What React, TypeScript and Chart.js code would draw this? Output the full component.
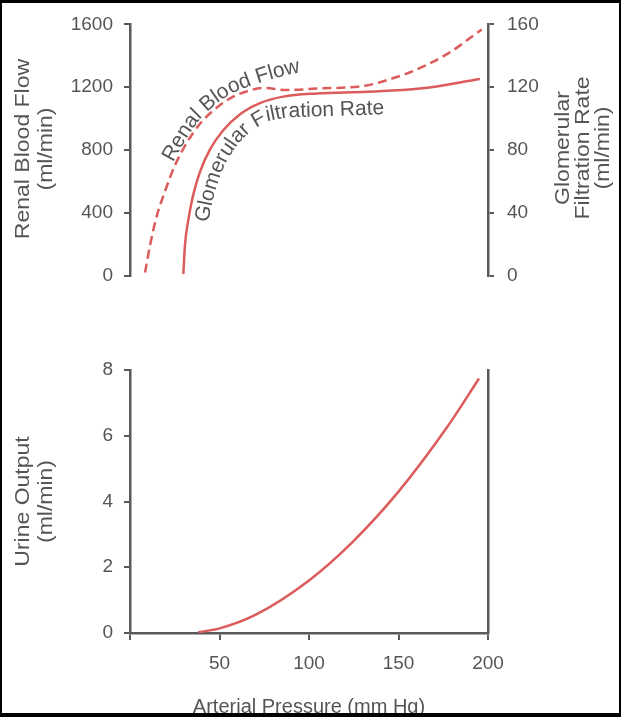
import React, { useEffect, useRef } from 'react';
import { Chart, registerables } from 'chart.js';

Chart.register(...registerables);

// ---- Data (arterial pressure in mm Hg) ----
// Top panel: renal blood flow (left axis, ml/min)
const rbfPressure = [8.4, 11.2, 14.9, 19.6, 25.1, 31.7, 39.1, 48.4, 57.7, 67.0, 74.5, 87.5, 104.3, 132.2, 145, 160, 178, 196.5];
const rbfFlow = [20, 194, 377, 539, 702, 845, 967, 1069, 1140, 1180, 1195, 1182, 1191, 1211, 1250, 1312, 1417, 1568];

// Top panel: glomerular filtration rate (right axis, ml/min)
const gfrPressure = [29.8, 30.7, 32.6, 35.4, 39.1, 44.7, 52.1, 61.5, 72.6, 85.6, 104.3, 132.2, 162, 195.5];
const gfrRate = [1, 19.4, 35.6, 51.9, 66.1, 80.4, 92.6, 102.8, 109.9, 114.0, 116.0, 117.1, 119.1, 125.2];

// Bottom panel: urine output (ml/min)
const urinePressure = [38, 50, 70, 100, 124, 150, 177, 195];
const urineOutput = [0.02, 0.14, 0.55, 1.6, 2.75, 4.3, 6.25, 7.74];

// Axis ranges / ticks
const pressureRange = [0, 200];
const rbfRange = [0, 1600];
const gfrRange = [0, 160];
const urineRange = [0, 8];
const pressureStep = 50;
const rbfStep = 400;
const gfrStep = 40;
const urineStep = 2;

// Axis titles
const rbfTitle = ['Renal Blood Flow', '(ml/min)'];
const gfrTitle = ['Glomerular', 'Filtration Rate', '(ml/min)'];
const urineTitle = ['Urine Output', '(ml/min)'];
const pressureTitle = 'Arterial Pressure (mm Hg)';

// Curved in-plot label baselines (in top-panel data coords: pressure, renal-flow units)
const rbfLabelPath = [[24.0, 721], [30.2, 849], [37.4, 977], [46.4, 1081], [56.4, 1160], [65.9, 1203], [75.4, 1240], [84.9, 1270], [95.0, 1295]];
const gfrLabelPath = [[43.6, 336], [46.4, 489], [49.7, 623], [54.7, 745], [60.9, 849], [68.2, 928], [76.5, 983], [87.7, 1008], [105.0, 1014], [122.9, 1020], [148.0, 1032]];

// ---- Styles ----
const FONT = '"Liberation Sans", Arial, Helvetica, sans-serif';
const axisColor = '#5a5a5a';
const textColor = '#555555';
const red = '#dc5b5b';

type LabelSpec = { text: string; path: number[][]; font: string; color: string };

function makePathLabelPlugin(specs: LabelSpec[]) {
  return {
    id: 'pathLabels',
    afterDatasetsDraw(chart: any) {
      const { ctx } = chart;
      const xs = chart.scales.x;
      const ys = chart.scales.y;
      for (const spec of specs) {
        const pts = spec.path.map(([a, b]) => ({ x: xs.getPixelForValue(a), y: ys.getPixelForValue(b) }));
        const cum = [0];
        for (let i = 1; i < pts.length; i++) {
          cum.push(cum[i - 1] + Math.hypot(pts[i].x - pts[i - 1].x, pts[i].y - pts[i - 1].y));
        }
        const at = (d: number) => {
          let i = 1;
          while (i < pts.length - 1 && cum[i] < d) i++;
          const a = pts[i - 1];
          const b = pts[i];
          const seg = cum[i] - cum[i - 1] || 1;
          const t = (d - cum[i - 1]) / seg;
          return { x: a.x + (b.x - a.x) * t, y: a.y + (b.y - a.y) * t };
        };
        ctx.save();
        ctx.font = spec.font;
        ctx.fillStyle = spec.color;
        ctx.textBaseline = 'alphabetic';
        ctx.textAlign = 'left';
        let s = 0;
        for (const ch of spec.text) {
          const w = ctx.measureText(ch).width;
          const p0 = at(s);
          const p1 = at(s + w);
          const ang = Math.atan2(p1.y - p0.y, p1.x - p0.x);
          ctx.save();
          ctx.translate(p0.x, p0.y);
          ctx.rotate(ang);
          ctx.fillText(ch, 0, 0);
          ctx.restore();
          s += w;
        }
        ctx.restore();
      }
    },
  };
}

// Vertical (bottom-to-top) axis titles, slightly condensed like the original figure
function makeVerticalTitlePlugin(id: string, lines: string[], scaleId: string, offsets: number[], font: string, stretch: number, dy: number) {
  return {
    id,
    afterDraw(chart: any) {
      const { ctx, chartArea } = chart;
      const sc = chart.scales[scaleId];
      const cy = (chartArea.top + chartArea.bottom) / 2 + dy;
      ctx.save();
      ctx.font = font;
      ctx.fillStyle = textColor;
      ctx.textAlign = 'center';
      ctx.textBaseline = 'middle';
      lines.forEach((t, i) => {
        ctx.save();
        ctx.translate(sc.left + offsets[i], cy);
        ctx.rotate(-Math.PI / 2);
        ctx.scale(stretch, 1);
        ctx.fillText(t, 0, 0);
        ctx.restore();
      });
      ctx.restore();
    },
  };
}

const tickFont = { family: FONT, size: 19 };
const plainTick = (v: number) => String(v);
const gridOpts = (len: number) => ({
  display: true,
  drawOnChartArea: false,
  drawTicks: true,
  tickLength: len,
  color: axisColor,
  lineWidth: 2,
});
const borderOpts = { display: true, color: axisColor, width: 2.5 };
const LEFT_W = 130;
const RIGHT_W = 133;

function topConfig(): any {
  return {
    type: 'line',
    data: {
      datasets: [
        {
          label: 'Renal Blood Flow',
          data: rbfPressure.map((x, i) => ({ x, y: rbfFlow[i] })),
          yAxisID: 'y',
          borderColor: red,
          borderWidth: 2.5,
          borderDash: [9, 5],
          pointRadius: 0,
          fill: false,
          cubicInterpolationMode: 'monotone',
        },
        {
          label: 'Glomerular Filtration Rate',
          data: gfrPressure.map((x, i) => ({ x, y: gfrRate[i] })),
          yAxisID: 'y1',
          borderColor: red,
          borderWidth: 2.5,
          pointRadius: 0,
          fill: false,
          cubicInterpolationMode: 'monotone',
        },
      ],
    },
    options: {
      animation: false,
      responsive: false,
      maintainAspectRatio: false,
      layout: { padding: { top: 23, bottom: 15, left: 0, right: 0 } },
      plugins: { legend: { display: false }, tooltip: { enabled: false } },
      scales: {
        x: { type: 'linear', min: pressureRange[0], max: pressureRange[1], display: false },
        y: {
          type: 'linear',
          position: 'left',
          min: rbfRange[0],
          max: rbfRange[1],
          ticks: { stepSize: rbfStep, color: textColor, font: tickFont, padding: 11, callback: plainTick },
          grid: gridOpts(6),
          border: borderOpts,
          afterFit: (s: any) => { s.width = LEFT_W; },
        },
        y1: {
          type: 'linear',
          position: 'right',
          min: gfrRange[0],
          max: gfrRange[1],
          ticks: { stepSize: gfrStep, color: textColor, font: tickFont, padding: 13, callback: plainTick },
          grid: gridOpts(6),
          border: borderOpts,
          afterFit: (s: any) => { s.width = RIGHT_W; },
        },
      },
    },
    plugins: [
      makePathLabelPlugin([
        { text: 'Renal Blood Flow', path: rbfLabelPath, font: `21px ${FONT}`, color: textColor },
        { text: 'Glomerular Filtration Rate', path: gfrLabelPath, font: `21px ${FONT}`, color: textColor },
      ]),
      makeVerticalTitlePlugin('leftTitle', rbfTitle, 'y', [23, 46], `20px ${FONT}`, 1.15, -1),
      makeVerticalTitlePlugin('rightTitle', gfrTitle, 'y1', [75, 95, 115], `20px ${FONT}`, 1.15, -2),
    ],
  };
}

function bottomConfig(): any {
  return {
    type: 'line',
    data: {
      datasets: [
        {
          label: 'Urine Output',
          data: urinePressure.map((x, i) => ({ x, y: urineOutput[i] })),
          yAxisID: 'y',
          borderColor: red,
          borderWidth: 2.5,
          pointRadius: 0,
          fill: false,
          cubicInterpolationMode: 'monotone',
        },
      ],
    },
    options: {
      animation: false,
      responsive: false,
      maintainAspectRatio: false,
      layout: { padding: { top: 40, bottom: 0, left: 0, right: 0 } },
      plugins: { legend: { display: false }, tooltip: { enabled: false } },
      scales: {
        x: {
          type: 'linear',
          position: 'bottom',
          min: pressureRange[0],
          max: pressureRange[1],
          ticks: {
            stepSize: pressureStep,
            color: textColor,
            font: tickFont,
            padding: 12,
            maxRotation: 0,
            autoSkip: false,
            callback: (v: number) => (v === 0 ? '' : String(v)),
          },
          grid: gridOpts(7),
          border: borderOpts,
          title: {
            display: true,
            text: pressureTitle,
            color: textColor,
            font: { family: FONT, size: 20, lineHeight: 1.2 },
            padding: { top: 0, bottom: 1 },
          },
          afterFit: (s: any) => { s.height = 87; },
        },
        y: {
          type: 'linear',
          position: 'left',
          min: urineRange[0],
          max: urineRange[1],
          ticks: { stepSize: urineStep, color: textColor, font: tickFont, padding: 11, callback: plainTick },
          grid: gridOpts(6),
          border: borderOpts,
          afterFit: (s: any) => { s.width = LEFT_W; },
        },
        yR: {
          type: 'linear',
          position: 'right',
          min: urineRange[0],
          max: urineRange[1],
          ticks: { display: false },
          grid: { display: false, drawTicks: false },
          border: borderOpts,
          afterFit: (s: any) => { s.width = RIGHT_W; },
        },
      },
    },
    plugins: [makeVerticalTitlePlugin('leftTitle', urineTitle, 'y', [23, 46], `20px ${FONT}`, 1.15, 0)],
  };
}

export default function App() {
  const topRef = useRef<HTMLCanvasElement>(null);
  const botRef = useRef<HTMLCanvasElement>(null);

  useEffect(() => {
    const top = new Chart(topRef.current as HTMLCanvasElement, topConfig());
    const bot = new Chart(botRef.current as HTMLCanvasElement, bottomConfig());
    return () => {
      top.destroy();
      bot.destroy();
    };
  }, []);

  return (
    <div style={{ position: 'absolute', left: 0, top: 0, width: 621, height: 720, background: '#fff', overflow: 'hidden' }}>
      <canvas ref={topRef} width={621} height={300} style={{ position: 'absolute', left: 0, top: 0 }} />
      <canvas ref={botRef} width={621} height={390} style={{ position: 'absolute', left: 0, top: 330 }} />
      <div
        style={{
          position: 'absolute',
          left: 0,
          top: 0,
          width: 621,
          height: 717,
          boxSizing: 'border-box',
          borderTop: '3px solid #000',
          borderBottom: '4px solid #000',
          borderLeft: '2px solid #000',
          borderRight: '2px solid #000',
          pointerEvents: 'none',
        }}
      />
    </div>
  );
}
